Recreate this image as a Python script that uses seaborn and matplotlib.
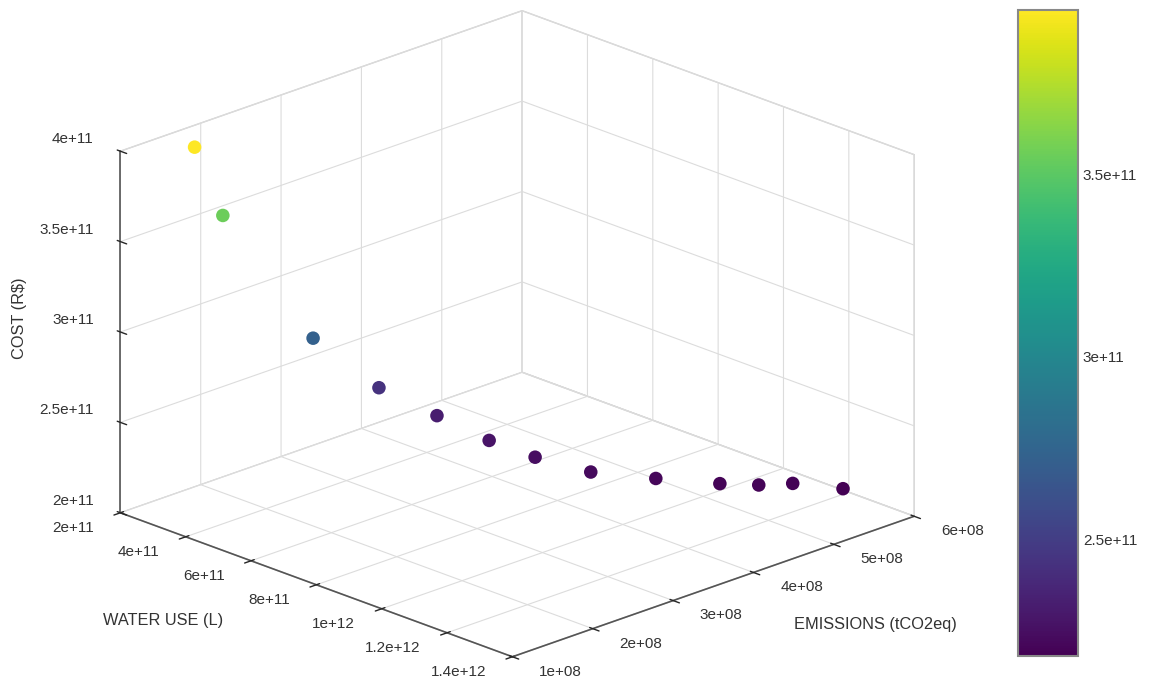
import matplotlib
matplotlib.use("Agg")
import matplotlib.pyplot as plt
from matplotlib.ticker import FixedLocator, NullFormatter
from matplotlib.colors import Normalize
import seaborn as sns

# Pareto solutions: water use (L), emissions (tCO2eq), cost (R$)
water_use = [2.55e11, 2.80e11, 2.98e11, 3.84e11, 5.05e11, 6.50e11, 7.71e11,
             9.02e11, 1.015e12, 1.125e12, 1.185e12, 1.225e12, 1.315e12]
emissions = [1.70e8, 1.95e8, 3.00e8, 3.47e8, 3.70e8, 3.76e8, 3.84e8,
             4.00e8, 4.35e8, 4.70e8, 4.94e8, 5.20e8, 5.46e8]
cost = [3.95e11, 3.55e11, 2.72e11, 2.43e11, 2.32e11, 2.27e11, 2.245e11,
        2.225e11, 2.21e11, 2.20e11, 2.195e11, 2.19e11, 2.18e11]

water_ticks = [2e11, 4e11, 6e11, 8e11, 1e12, 1.2e12, 1.4e12]
emission_ticks = [1e8, 2e8, 3e8, 4e8, 5e8, 6e8]
cost_ticks = [2e11, 2.5e11, 3e11, 3.5e11, 4e11]
colorbar_ticks = [2.5e11, 3e11, 3.5e11]


def gfmt(v):
    return "{:g}".format(v)


sns.set_theme(style="white")
plt.rcParams["font.family"] = ["Liberation Sans", "DejaVu Sans"]
plt.rcParams["grid.color"] = "#dcdcdc"
plt.rcParams["grid.linewidth"] = 0.8
plt.rcParams["axes3d.automargin"] = False

cmap = sns.color_palette("viridis", as_cmap=True)
norm = Normalize(vmin=min(cost), vmax=max(cost))
text_color = "#333333"
tick_size = 11
label_size = 11.8

fig = plt.figure(figsize=(11.5, 6.86), dpi=100)
ax = fig.add_axes([13.5 / 1150, 0.0, 0.86, 1.0], projection="3d",
                  proj_type="ortho")
ax.set_box_aspect((1, 1, 0.69), zoom=1.25)
ax.view_init(elev=21, azim=-44.3)

ax.scatter(water_use, emissions, cost, c=cost, cmap=cmap, norm=norm,
           s=95, depthshade=False, edgecolors="none", alpha=1)

x0, x1 = 2e11, 1.4e12
y0, y1 = 1e8, 6e8
z0, z1 = 2e11, 4e11
ax.set_xlim(x0, x1)
ax.set_ylim(y0, y1)
ax.set_zlim(z0, z1)

# cost axis on the left vertical edge
ax.zaxis._axinfo["juggled"] = (1, 2, 0)

for axis, ticks in ((ax.xaxis, water_ticks), (ax.yaxis, emission_ticks),
                    (ax.zaxis, cost_ticks)):
    axis.set_major_locator(FixedLocator(ticks))
    axis.set_major_formatter(NullFormatter())
    axis.set_pane_color((1, 1, 1, 1))
    axis.pane.set_edgecolor("#d0d0d0")
    axis.line.set_color("#555555")
    axis.line.set_linewidth(1.2)
    axis._axinfo["tick"]["color"] = text_color
    axis._axinfo["tick"]["linewidth"] = {True: 1.0, False: 0.5}

# tick labels placed just outside the box edges
dx, dy, dz = x1 - x0, y1 - y0, z1 - z0
for w in water_ticks:
    ax.text(w, y0 - 0.066 * dy, z0 - 0.017 * dz, gfmt(w), ha="right",
            va="center", fontsize=tick_size, color=text_color)
for e in emission_ticks:
    ax.text(x1 + 0.068 * dx, e, z0 - 0.014 * dz, gfmt(e), ha="left",
            va="center", fontsize=tick_size, color=text_color)
for c in cost_ticks:
    ax.text(x0 - 0.068 * dx, y0, c + 0.006 * dz, gfmt(c), ha="right",
            va="center", fontsize=tick_size, color=text_color)

fig.text(163 / 1150, 1 - 620 / 686, "WATER USE (L)", ha="center", va="center",
         fontsize=label_size, color=text_color)
fig.text(875 / 1150, 1 - 625 / 686, "EMISSIONS (tCO2eq)", ha="center", va="center",
         fontsize=label_size, color=text_color)
fig.text(20 / 1150, 1 - 318 / 686, r"COST (R\$)", ha="center", va="center",
         rotation=90, fontsize=label_size, color=text_color)

cax = fig.add_axes([1018 / 1150, 1 - 656 / 686, 60 / 1150, 646 / 686])
sm = plt.cm.ScalarMappable(norm=norm, cmap=cmap)
cb = fig.colorbar(sm, cax=cax)
cb.set_ticks(colorbar_ticks)
cb.set_ticklabels([gfmt(v) for v in colorbar_ticks])
cb.ax.tick_params(direction="in", left=True, right=True, length=5, width=0.8,
                  labelsize=tick_size, colors=text_color)
cb.outline.set_edgecolor("#888888")
cb.outline.set_linewidth(1.5)

fig.savefig("out.png", dpi=100)
